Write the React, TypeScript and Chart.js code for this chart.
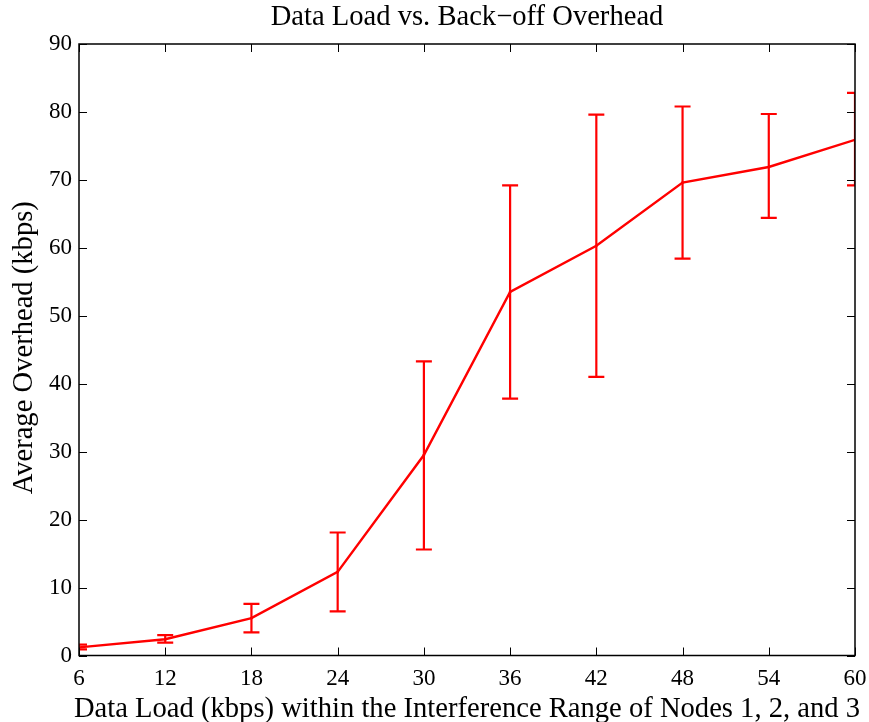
import React, { useEffect, useRef } from "react";
import { Chart, registerables } from "chart.js";

Chart.register(...registerables);

// Offered data load (kbps) and measured back-off overhead (kbps)
const loads = [6, 12, 18, 24, 30, 36, 42, 48, 54, 60];
const overhead = [1.2, 2.4, 5.5, 12.3, 29.5, 53.5, 60.3, 69.6, 71.9, 75.9];
const overheadLow = [0.9, 1.9, 3.4, 6.5, 15.6, 37.8, 41.0, 58.4, 64.4, 69.2];
const overheadHigh = [1.6, 3.0, 7.6, 18.1, 43.3, 69.2, 79.6, 80.8, 79.7, 82.8];

const xTickValues = [6, 12, 18, 24, 30, 36, 42, 48, 54, 60];
const yTickValues = [0, 10, 20, 30, 40, 50, 60, 70, 80, 90];

const chartTitle = "Data Load vs. Back\u2212off Overhead";
const xTitle = "Data Load (kbps) within the Interference Range of Nodes 1, 2, and 3";
const yTitle = "Average Overhead (kbps)";

const FONT = "'Liberation Serif', 'Times New Roman', serif";
const RED = "#ff0000";

// Error bars with caps, clipped to the plot box
const errorBarPlugin = {
  id: "errorBars",
  afterDatasetsDraw(chart: any) {
    const { ctx, chartArea, scales } = chart;
    const xs = scales.x;
    const ys = scales.y;
    ctx.save();
    ctx.beginPath();
    ctx.rect(chartArea.left, chartArea.top, chartArea.right - chartArea.left, chartArea.bottom - chartArea.top);
    ctx.clip();
    ctx.strokeStyle = RED;
    ctx.lineWidth = 2.2;
    const cap = 8;
    for (let i = 0; i < loads.length; i++) {
      const x = xs.getPixelForValue(loads[i]);
      const yl = ys.getPixelForValue(overheadLow[i]);
      const yh = ys.getPixelForValue(overheadHigh[i]);
      ctx.beginPath();
      ctx.moveTo(x, yl);
      ctx.lineTo(x, yh);
      ctx.moveTo(x - cap, yl);
      ctx.lineTo(x + cap, yl);
      ctx.moveTo(x - cap, yh);
      ctx.lineTo(x + cap, yh);
      ctx.stroke();
    }
    ctx.restore();
  },
};

// Box frame, inward tick marks on all four sides, and the titles
const framePlugin = {
  id: "frame",
  afterDraw(chart: any) {
    const { ctx, chartArea, scales } = chart;
    const { left, right, top, bottom } = chartArea;
    const xs = scales.x;
    const ys = scales.y;
    const tl = 8;
    ctx.save();
    ctx.strokeStyle = "#000";
    ctx.lineWidth = 1;
    ctx.beginPath();
    xs.ticks.forEach((t: any) => {
      const x = Math.round(xs.getPixelForValue(t.value)) + 0.5;
      ctx.moveTo(x, bottom);
      ctx.lineTo(x, bottom - tl);
      ctx.moveTo(x, top);
      ctx.lineTo(x, top + tl);
    });
    ys.ticks.forEach((t: any) => {
      const y = Math.round(ys.getPixelForValue(t.value)) + 0.5;
      ctx.moveTo(left, y);
      ctx.lineTo(left + tl, y);
      ctx.moveTo(right, y);
      ctx.lineTo(right - tl, y);
    });
    ctx.stroke();
    ctx.lineWidth = 1.5;
    ctx.strokeRect(left, top, right - left, bottom - top);

    ctx.fillStyle = "#000";
    ctx.font = `28.6px ${FONT}`;
    ctx.textAlign = "center";
    ctx.textBaseline = "alphabetic";
    const cx = (left + right) / 2;
    ctx.fillText(chartTitle, cx, 25);
    ctx.fillText(xTitle, cx, 717);
    ctx.translate(32, (top + bottom) / 2 - 2);
    ctx.rotate(-Math.PI / 2);
    ctx.fillText(yTitle, 0, 0);
    ctx.restore();
  },
};

export default function App() {
  const ref = useRef<HTMLCanvasElement | null>(null);

  useEffect(() => {
    if (!ref.current) return;
    const chart = new Chart(ref.current, {
      type: "line",
      data: {
        datasets: [
          {
            label: "Average Overhead",
            data: loads.map((x, i) => ({ x, y: overhead[i] })),
            borderColor: RED,
            backgroundColor: RED,
            borderWidth: 2.4,
            pointRadius: 1.4,
            pointBorderWidth: 0,
            tension: 0,
            fill: false,
          },
        ],
      },
      options: {
        responsive: false,
        animation: false,
        devicePixelRatio: 1,
        layout: { padding: { left: 0, right: 14, top: 44, bottom: 0 } },
        plugins: {
          legend: { display: false },
          title: { display: false },
          tooltip: { enabled: false },
        },
        scales: {
          x: {
            type: "linear",
            min: 6,
            max: 60,
            afterBuildTicks: (s: any) => {
              s.ticks = xTickValues.map((v) => ({ value: v }));
            },
            afterFit: (s: any) => {
              s.height = 66.5;
              s.paddingLeft = 0;
              s.paddingRight = 0;
            },
            grid: { display: true, drawOnChartArea: false, drawTicks: false },
            border: { display: false },
            ticks: {
              padding: 10,
              color: "#000",
              font: { family: FONT, size: 23 },
              maxRotation: 0,
              autoSkip: false,
            },
          },
          y: {
            type: "linear",
            min: 0,
            max: 90,
            afterBuildTicks: (s: any) => {
              s.ticks = yTickValues.map((v) => ({ value: v }));
            },
            afterFit: (s: any) => {
              s.width = 79;
              s.paddingTop = 0;
              s.paddingBottom = 0;
            },
            grid: { display: true, drawOnChartArea: false, drawTicks: false },
            border: { display: false },
            ticks: {
              padding: 7,
              color: "#000",
              font: { family: FONT, size: 23 },
              autoSkip: false,
            },
          },
        },
      },
      plugins: [errorBarPlugin, framePlugin],
    });
    return () => chart.destroy();
  }, []);

  return (
    <div style={{ position: "fixed", left: 0, top: 0, width: 869, height: 722, background: "#fff" }}>
      <canvas ref={ref} width={869} height={722} style={{ width: 869, height: 722, display: "block" }} />
    </div>
  );
}
